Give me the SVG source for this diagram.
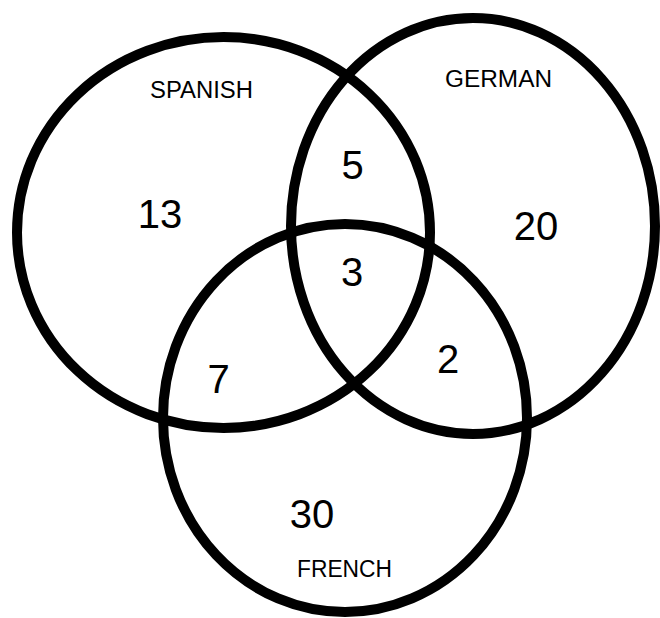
<svg xmlns="http://www.w3.org/2000/svg" width="660" height="618" viewBox="0 0 660 618">
<style>
.c{fill:none;stroke:#000;stroke-width:10}
.lbl{font-family:"Liberation Sans",Arial,sans-serif;font-size:23px;fill:#000;text-anchor:middle}
.num{font-family:"Liberation Sans",Arial,sans-serif;font-size:40px;fill:#000;text-anchor:middle}
</style>
<rect width="660" height="618" fill="#fff"/>
<g id="spanish">
<ellipse class="c" cx="223.5" cy="232.5" rx="206.5" ry="195.5"/>
<text class="lbl" x="201.5" y="98" textLength="103" lengthAdjust="spacingAndGlyphs">SPANISH</text>
<text class="num" x="160" y="228">13</text>
</g>
<g id="german">
<ellipse class="c" cx="473" cy="226" rx="182" ry="208"/>
<text class="lbl" x="498.5" y="87" textLength="107" lengthAdjust="spacingAndGlyphs">GERMAN</text>
<text class="num" x="536" y="240">20</text>
</g>
<g id="french">
<ellipse class="c" cx="345" cy="418" rx="182" ry="194"/>
<text class="lbl" x="344.5" y="577" textLength="95" lengthAdjust="spacingAndGlyphs">FRENCH</text>
<text class="num" x="312" y="528">30</text>
</g>
<g id="overlaps">
<text class="num" x="352.5" y="179">5</text>
<text class="num" x="352" y="286">3</text>
<text class="num" x="218.5" y="393">7</text>
<text class="num" x="448" y="373">2</text>
</g>
<g id="connectors"></g>
</svg>
